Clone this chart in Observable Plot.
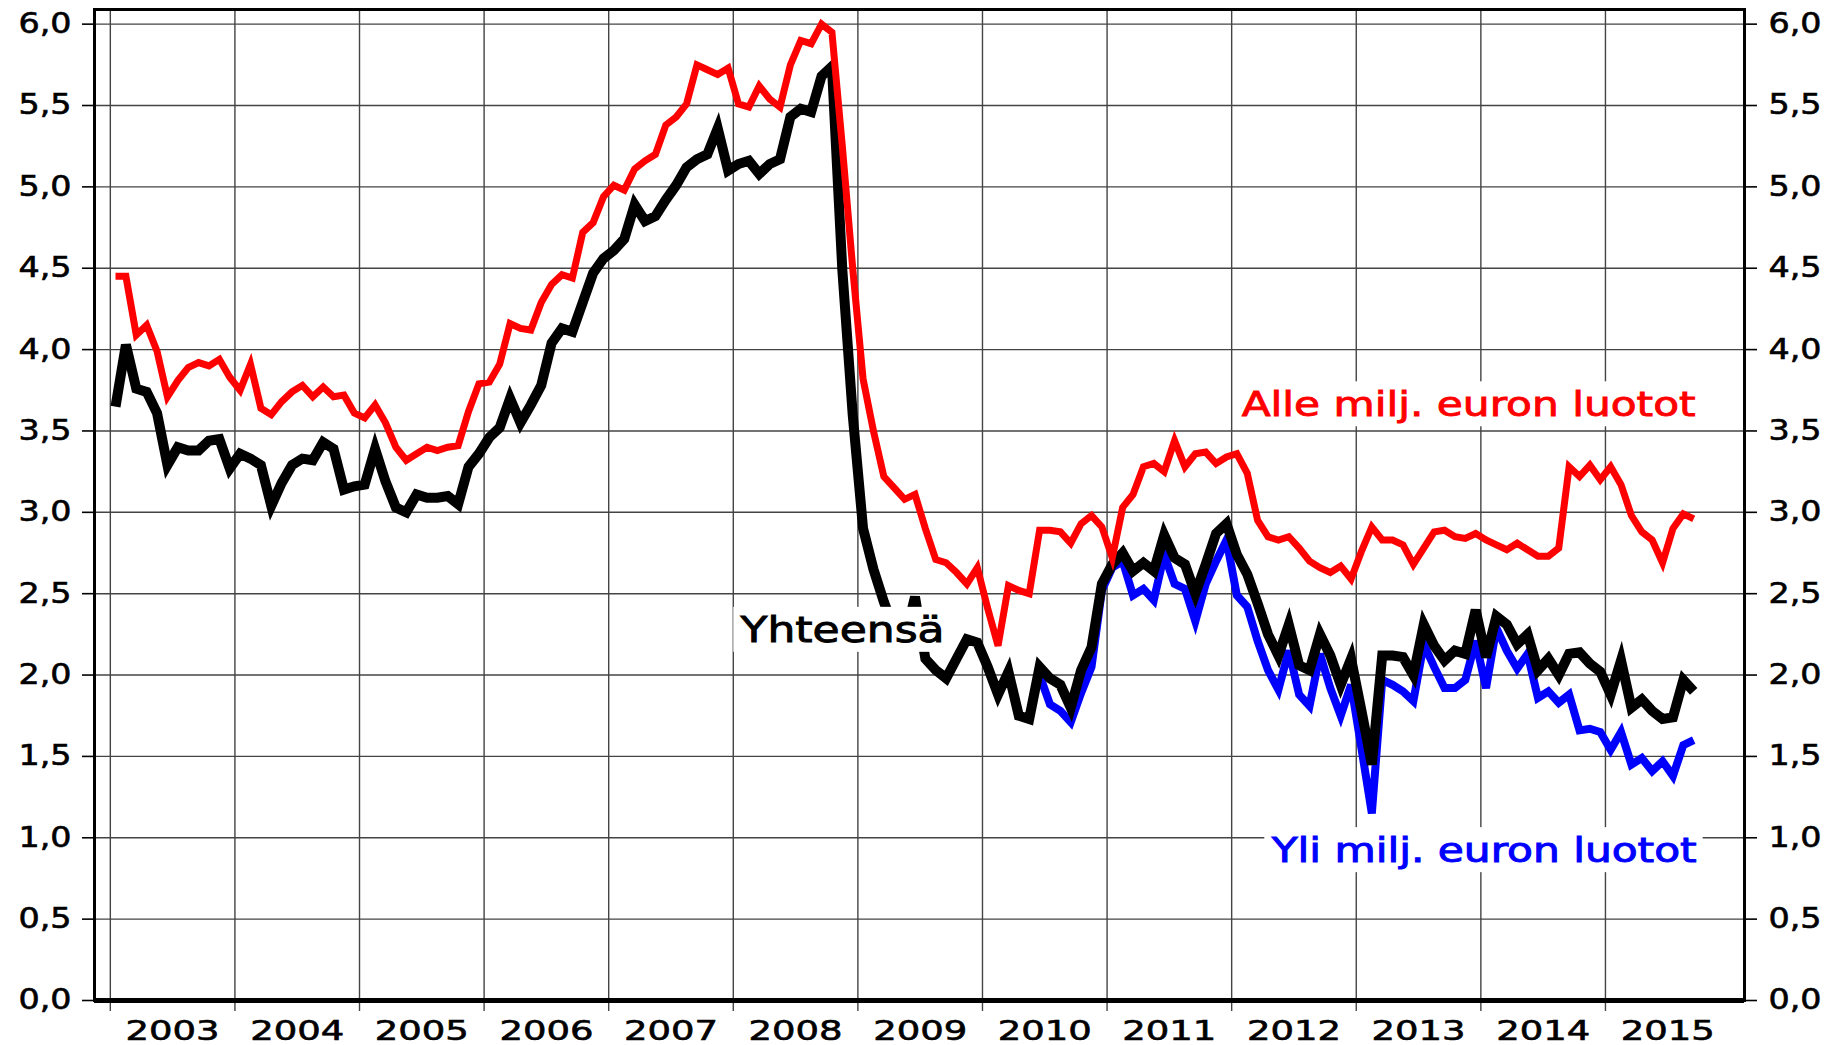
<!DOCTYPE html>
<html>
<head>
<meta charset="utf-8">
<script src="https://cdn.jsdelivr.net/npm/d3@7"></script>
<script src="https://cdn.jsdelivr.net/npm/@observablehq/plot@0.6"></script>
<style>
html, body { margin: 0; padding: 0; background: #fff; }
#chart svg { display: block; }
</style>
</head>
<body>
<div id="chart"></div>
<script>
// ---- data (monthly, %) ----
const alleFirstMonth = "2003-01";
const alle = [
  4.45,4.45,4.09,4.15,3.99,3.71,3.81,3.89,3.92,3.90,3.94,3.83,
  3.75,3.91,3.64,3.60,3.68,3.74,3.78,3.71,3.77,3.71,3.72,3.61,
  3.58,3.66,3.55,3.40,3.32,3.36,3.40,3.38,3.40,3.41,3.62,3.79,
  3.80,3.91,4.16,4.13,4.12,4.29,4.40,4.46,4.44,4.72,4.78,4.94,
  5.01,4.98,5.11,5.16,5.20,5.38,5.43,5.51,5.75,5.72,5.69,5.73,
  5.51,5.49,5.62,5.54,5.49,5.75,5.90,5.88,6.00,5.95,5.25,4.50,
  3.82,3.50,3.22,3.15,3.08,3.11,2.90,2.71,2.69,2.63,2.56,2.66,
  2.41,2.18,2.55,2.52,2.50,2.89,2.89,2.88,2.81,2.93,2.98,2.91,
  2.72,3.03,3.11,3.28,3.30,3.25,3.44,3.28,3.36,3.37,3.30,3.34,
  3.36,3.24,2.95,2.85,2.83,2.85,2.78,2.70,2.66,2.63,2.67,2.59,
  2.76,2.91,2.83,2.83,2.80,2.68,2.78,2.88,2.89,2.85,2.84,2.87,
  2.83,2.80,2.77,2.81,2.77,2.73,2.73,2.78,3.28,3.22,3.29,3.20,
  3.28,3.17,2.98,2.88,2.83,2.69,2.90,2.99,2.96
];
const yhteensaFirstMonth = "2003-01";
const yhteensa = [
  3.65,4.03,3.76,3.74,3.61,3.29,3.40,3.38,3.38,3.44,3.45,3.27,
  3.36,3.33,3.29,3.04,3.18,3.29,3.33,3.32,3.43,3.39,3.14,3.16,
  3.17,3.39,3.19,3.03,3.00,3.11,3.09,3.09,3.10,3.05,3.28,3.36,
  3.46,3.52,3.70,3.55,3.66,3.78,4.04,4.13,4.11,4.29,4.47,4.56,
  4.61,4.68,4.89,4.79,4.82,4.92,5.01,5.12,5.17,5.20,5.36,5.10,
  5.14,5.16,5.08,5.14,5.17,5.43,5.48,5.46,5.68,5.74,4.49,3.60,
  2.90,2.65,2.45,2.28,2.22,2.48,2.10,2.03,1.98,2.10,2.22,2.20,
  2.05,1.88,2.02,1.75,1.73,2.05,1.98,1.94,1.80,2.03,2.17,2.56,
  2.68,2.75,2.64,2.69,2.64,2.86,2.72,2.68,2.50,2.68,2.87,2.93,
  2.74,2.62,2.44,2.25,2.12,2.31,2.06,2.03,2.25,2.12,1.94,2.10,
  1.78,1.45,2.12,2.12,2.11,2.00,2.31,2.18,2.09,2.15,2.13,2.40,
  2.11,2.36,2.31,2.19,2.25,2.03,2.10,2.00,2.13,2.14,2.07,2.02,
  1.88,2.09,1.80,1.85,1.78,1.73,1.74,1.97,1.90
];
const yliFirstMonth = "2010-06";
const yli = [
  2.00,1.82,1.78,1.71,1.89,2.05,2.52,
  2.66,2.70,2.49,2.53,2.46,2.74,2.56,2.53,2.33,2.56,2.70,2.83,
  2.49,2.42,2.21,2.03,1.91,2.15,1.88,1.81,2.13,1.92,1.75,1.94,
  1.55,1.15,1.97,1.94,1.90,1.84,2.19,2.05,1.92,1.92,1.97,2.21,
  1.92,2.29,2.15,2.04,2.13,1.86,1.90,1.83,1.88,1.66,1.67,1.65,
  1.54,1.65,1.45,1.49,1.41,1.47,1.38,1.57,1.60
];
const yearTicks = [2003,2004,2005,2006,2007,2008,2009,2010,2011,2012,2013,2014,2015];
const yearLabels = ["2003","2004","2005","2006","2007","2008","2009","2010","2011","2012","2013","2014","2015"];
const yTicks = [0,0.5,1,1.5,2,2.5,3,3.5,4,4.5,5,5.5,6];
const seriesNames = ["Alle milj. euron luotot", "Yhteensä", "Yli milj. euron luotot"];

// ---- helpers ----
// month k after the first month, plotted at mid-month, as a decimal year
function toRows(first, values, name) {
  const [y0, m0] = first.split("-").map(Number);
  return values.map((v, k) => ({t: y0 + (m0 - 1 + k + 0.5) / 12, v, name}));
}
const alleRows = toRows(alleFirstMonth, alle, seriesNames[0]);
const totRows = toRows(yhteensaFirstMonth, yhteensa, seriesNames[1]);
const yliRows = toRows(yliFirstMonth, yli, seriesNames[2]);
const fmt = d => d.toFixed(1).replace(".", ",");
const lineStyle = {x: "t", y: "v", strokeLinejoin: "miter", strokeLinecap: "butt", strokeMiterlimit: 4};

const chart = Plot.plot({
  width: 1839,
  height: 1045,
  marginLeft: 94,
  marginRight: 95,
  marginTop: 9,
  marginBottom: 45,
  x: {domain: [2002.873, 2016.116], label: null},
  y: {domain: [0, 6.09], label: null},
  style: {fontFamily: "'DejaVu Sans', sans-serif", color: "#000", background: "#fff", overflow: "visible"},
  marks: [
    Plot.ruleY(yTicks.filter(d => d > 0), {stroke: "#444", strokeWidth: 1.4}),
    Plot.ruleX(yearTicks, {stroke: "#444", strokeWidth: 1.4}),
    Plot.axisX(yearTicks, {tickSize: 11, tickFormat: () => "", stroke: "#444", strokeWidth: 1.4}),
    Plot.axisY(yTicks, {anchor: "left", tickSize: 12, tickPadding: 11, tickFormat: fmt, fontSize: 28, strokeWidth: 1.6}),
    Plot.axisY(yTicks, {anchor: "right", tickSize: 12, tickPadding: 12, tickFormat: fmt, fontSize: 28, strokeWidth: 1.6}),
    Plot.text(yearLabels, {x: (d, i) => yearTicks[i] + 0.5, y: 0, dy: 31, text: d => d, fontSize: 26, fill: "#000"}),
    Plot.line(yliRows, {...lineStyle, stroke: "#0000ff", strokeWidth: 8}),
    Plot.line(totRows, {...lineStyle, stroke: "#000000", strokeWidth: 10}),
    Plot.line(alleRows, {...lineStyle, stroke: "#ff0000", strokeWidth: 7}),
    Plot.frame({stroke: "#000", strokeWidth: 3}),
    Plot.ruleY([0], {stroke: "#000", strokeWidth: 5}),
    Plot.text([seriesNames[0]], {x: 2015.724, y: 3.657, text: d => d, textAnchor: "end", fill: "#ff0000", fontSize: 34}),
    Plot.text([seriesNames[1]], {x: 2008.877, y: 2.273, text: d => d, textAnchor: "middle", fill: "#000", fontSize: 35}),
    Plot.text([seriesNames[2]], {x: 2015.732, y: 0.917, text: d => d, textAnchor: "end", fill: "#0000ff", fontSize: 34, fontFamily: "'DejaVu Sans Condensed', 'DejaVu Sans', sans-serif"})
  ]
});
document.getElementById("chart").append(chart);

// widen glyphs to match the extended typeface of the original
const texts = Array.from(chart.querySelectorAll("text"));
const labelWidth = {[seriesNames[0]]: 454, [seriesNames[1]]: 204, [seriesNames[2]]: 425};
texts.forEach(t => {
  const s = t.textContent;
  let w = null;
  if (/^\d,\d$/.test(s)) w = 53;
  else if (/^\d{4}$/.test(s)) w = 94;
  else if (labelWidth[s]) w = labelWidth[s];
  if (w == null) return;
  t.setAttribute("textLength", w);
  t.setAttribute("lengthAdjust", "spacingAndGlyphs");
  const col = labelWidth[s] ? getComputedStyle(t).fill : "#000";
  t.setAttribute("stroke", col);
  t.setAttribute("stroke-width", labelWidth[s] ? 0.9 : 0.6);
});

// white boxes behind the series labels
texts.filter(t => labelWidth[t.textContent]).forEach(t => {
  const b = t.getBBox();
  const r = document.createElementNS("http://www.w3.org/2000/svg", "rect");
  r.setAttribute("x", b.x - 6);
  r.setAttribute("y", b.y - 3);
  r.setAttribute("width", b.width + 12);
  r.setAttribute("height", b.height + 5);
  r.setAttribute("fill", "#ffffff");
  r.setAttribute("stroke", "none");
  const tr = t.getAttribute("transform");
  if (tr) r.setAttribute("transform", tr);
  t.parentNode.insertBefore(r, t);
});
</script>
</body>
</html>
